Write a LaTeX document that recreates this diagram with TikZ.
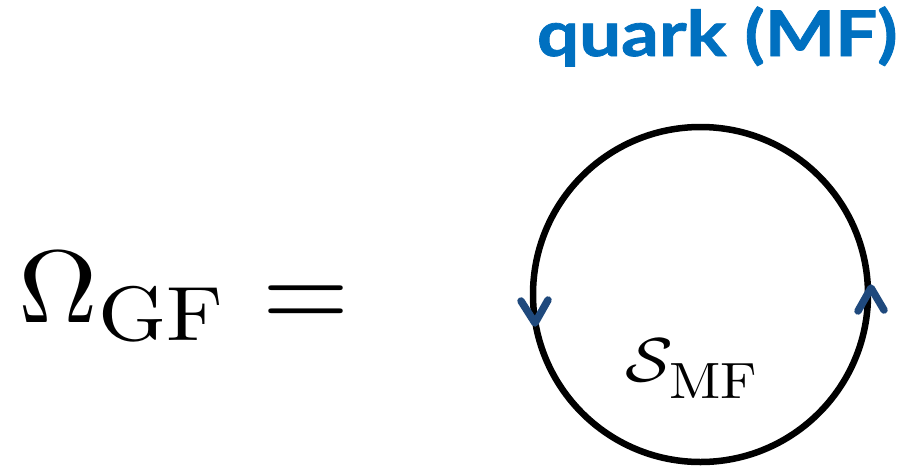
\documentclass[tikz,border=0pt]{standalone}
\usepackage{fontspec}
\usepackage{graphicx}
\newfontfamily\qfont{Lato}[BoldFeatures={FakeBold=1.2}]
\definecolor{qblue}{RGB}{0,112,192}
\definecolor{arrblue}{RGB}{31,73,125}
\begin{document}
\begin{tikzpicture}[x=1pt,y=-1pt,
  loopline/.style={draw=black,line width=6.5pt},
  chevron/.style={draw=arrblue,line width=7.5pt,line cap=round,line join=round},
  lbl/.style={inner sep=0pt,outer sep=0pt,anchor=base west}]
\useasboundingbox (0,0) rectangle (897,469);
\node[lbl,text=qblue] (title) at (537,56) {\scalebox{1.18}[1]{\qfont\bfseries\fontsize{63}{63}\selectfont quark (MF)}};
% left-hand side
\node[lbl] (omega) at (19,322) {\scalebox{11}[10.3]{$\Omega$}};
\node[lbl] (gf) at (98,340) {\scalebox{8.7}[7.7]{$\mathrm{GF}$}};
\node[lbl] (eq) at (262,329) {\scalebox{11.2}[11.9]{$=$}};
% loop
\node[circle,loopline,minimum size=335pt,inner sep=0pt] (loop) at (700.5,294.5) {};
\node[lbl] (smf) at (625,381) {\scalebox{7}[6.2]{$\mathcal{S}$}};
\node[lbl] (mf) at (669,398) {\scalebox{5.6}[5.1]{$\mathrm{MF}$}};
\coordinate (la) at (521,301);
\coordinate (lt) at (535,323);
\coordinate (lb) at (548,300);
\draw[chevron] (la) -- (lt) -- (lb);
\coordinate (ra) at (858,311);
\coordinate (rt) at (871,288);
\coordinate (rb) at (884,310);
\draw[chevron] (ra) -- (rt) -- (rb);
\end{tikzpicture}
\end{document}
